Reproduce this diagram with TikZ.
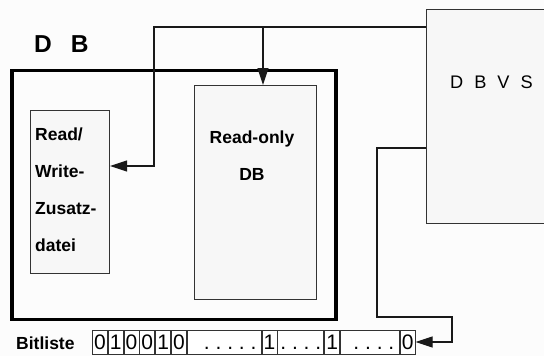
\documentclass[tikz,border=0pt]{standalone}
\usepackage{fontspec}
\setmainfont{Liberation Sans}
\usetikzlibrary{arrows.meta,calc}
\definecolor{bgc}{HTML}{FCFCFC}
\definecolor{boxfill}{HTML}{F7F7F7}
\definecolor{edge}{HTML}{333333}
\tikzset{
  box/.style={draw=edge, line width=1pt, fill=boxfill, inner sep=0pt, anchor=north west},
  conn/.style={draw=black!90, line width=1.1pt},
  arr/.style={-{Triangle[length=17pt,width=11pt]}},
  lbl/.style={inner sep=0pt, font=\bfseries\fontsize{17.5}{37}\selectfont},
  cell/.style={draw=edge, line width=0.8pt, fill=white, inner sep=0pt, minimum height=24pt,
    text height=15.5pt, text depth=0pt, anchor=west, font=\fontsize{21}{21}\selectfont},
  dcell/.style={cell, minimum width=15pt},
}
\begin{document}
\begin{tikzpicture}[x=1pt,y=-1pt]
\useasboundingbox (0,0) rectangle (544,356);
\fill[bgc] (0,0) rectangle (544,356);
\begin{scope}
\clip (0,0) rectangle (544,356);
% DBVS
\node[box, minimum width=140pt, minimum height=214pt] (dbvs) at (426,9) {};
\end{scope}
\node[anchor=base west, inner sep=0pt, font=\fontsize{18.2}{18}\selectfont] (dbvst) at (450,88) {D\hspace{11pt}B\hspace{11pt}V\hspace{11pt}S};
% DB outer
\node[draw=black, line width=3.5pt, inner sep=0pt, anchor=north west, minimum width=324pt, minimum height=249pt] (db) at (10,68.5) {};
\node[anchor=base west, inner sep=0pt, font=\bfseries\fontsize{24.5}{24}\selectfont] (dbt) at (34,52) {D\hspace{19pt}B};
% Read/Write
\node[box, minimum width=79pt, minimum height=163pt] (rw) at (30,110) {};
\node[lbl, anchor=north west, align=left] (rwt) at (35,128) {Read/\\Write-\\Zusatz-\\datei};
% Read-only
\node[box, minimum width=122pt, minimum height=214pt] (rod) at (194,85) {};
\node[lbl, anchor=north, align=center] (rodt) at (252,130.7) {Read-only\\DB};
% Bitliste
\node[lbl, anchor=base west] (bl) at (16,349) {Bitliste};
\node[dcell] (c1) at (92,342) {0};
\node[dcell] (c2) at (c1.east) {1};
\node[dcell] (c3) at (c2.east) {0};
\node[dcell] (c4) at (c3.east) {0};
\node[dcell] (c5) at (c4.east) {1};
\node[dcell] (c6) at (c5.east) {0};
\node[cell, minimum width=74pt] (c7) at (c6.east) {\hspace{12pt}.\ .\ .\ .\ .};
\node[dcell] (c8) at (c7.east) {1};
\node[cell, minimum width=46pt] (c9) at (c8.east) {.\ .\ .\ .};
\node[dcell] (c10) at (c9.east) {1};
\node[cell, minimum width=59pt] (c11) at (c10.east) {\hspace{8pt}.\ .\ .\ .};
\node[dcell] (c12) at (c11.east) {0};
% connectors
\coordinate (k1) at (154,27);
\coordinate (k2) at (154,166);
\coordinate (k3) at (263,27);
\draw[conn, arr] (dbvs.west |- k1) -- (k1) -- (k2) -- (rw.east |- k2);
\draw[conn, arr] (k3) -- (k3 |- rod.north);
\coordinate (m1) at (377,148);
\coordinate (m2) at (377,317);
\coordinate (m3) at (452,317);
\draw[conn, arr] (dbvs.west |- m1) -- (m1) -- (m2) -- (m3) -- (m3 |- c12.east) -- (c12.east);
\end{tikzpicture}
\end{document}
